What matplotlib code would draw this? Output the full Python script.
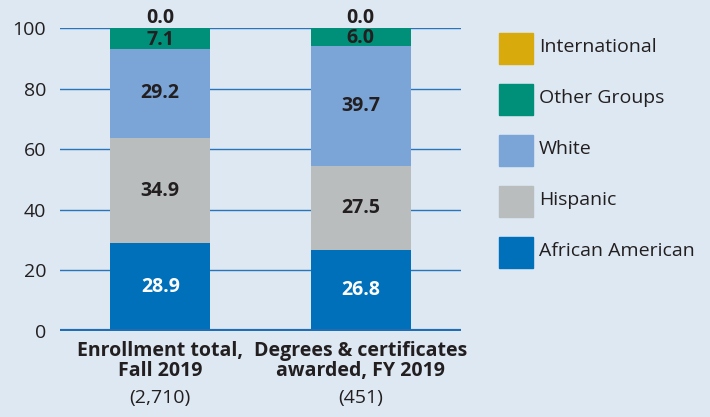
import numpy as np
import matplotlib.pyplot as plt
from matplotlib.patches import Rectangle

plt.rcParams['font.family'] = ['Open Sans', 'DejaVu Sans']

# Stacked shares (%) per group, bottom to top
groepen = ['African American', 'Hispanic', 'White', 'Other Groups', 'International']
kleuren = ['#0070bb', '#b9bdbe', '#7ba5d7', '#008f79', '#d9aa0c']
inschrijving = [28.9, 34.9, 29.2, 7.1, 0.0]
diplomas = [26.8, 27.5, 39.7, 6.0, 0.0]
categorieen = ['Enrollment total,\nFall 2019', 'Degrees & certificates\nawarded, FY 2019']
aantallen = ['(2,710)', '(451)']
label_kleur = ['white', '#231f20', '#231f20', '#231f20', '#231f20']

achtergrond = '#dde8f2'
tekst = '#231f20'
fs = 14

fig = plt.figure(figsize=(7.10, 4.17), dpi=100, facecolor=achtergrond)
ax = fig.add_axes([60 / 710, 1 - 331 / 417, 401 / 710, 303 / 417])
ax.set_facecolor(achtergrond)

x = np.arange(len(categorieen))
reeksen = np.array([inschrijving, diplomas]).T
onder = np.zeros(len(categorieen))

for rij, (naam, kleur) in enumerate(zip(groepen, kleuren)):
    waarden = reeksen[rij]
    ax.bar(x, waarden, width=0.5, bottom=onder, color=kleur, zorder=3)
    for xi, w, b in zip(x, waarden, onder):
        if w == 0:
            ax.annotate('%.1f' % w, (xi, b + w), xytext=(0, 0), textcoords='offset points',
                        ha='center', va='bottom', fontsize=fs, fontweight='bold',
                        color=tekst, zorder=4)
        else:
            ax.annotate('%.1f' % w, (xi, b + w / 2), xytext=(0, -1 if w < 10 else 0),
                        textcoords='offset points', ha='center', va='center', fontsize=fs,
                        fontweight='bold', color=label_kleur[rij], zorder=4)
    onder += waarden

ax.set_xlim(-0.5, 1.5)
ax.set_ylim(0, 100)
ax.set_yticks([0, 20, 40, 60, 80, 100])
ax.tick_params(axis='y', length=0, labelsize=fs, labelcolor=tekst, pad=10)
ax.set_xticks([])
for s in ax.spines.values():
    s.set_visible(False)
ax.yaxis.grid(True, color='#2a74bb', linewidth=1.0, zorder=1)
ax.axhline(0, color='#1f6db4', linewidth=3, zorder=5)

# category labels below the axis
for xi, cat, n in zip(x, categorieen, aantallen):
    ax.annotate(cat, (xi, 0), xytext=(0, -7), textcoords='offset points', ha='center',
                va='top', fontsize=fs, fontweight='bold', color=tekst,
                linespacing=1.0, annotation_clip=False)
    ax.annotate(n, (xi, 0), xytext=(0, -42), textcoords='offset points', ha='center',
                va='top', fontsize=fs, color=tekst, annotation_clip=False)

# legend, top to bottom
for i, (naam, kleur) in enumerate(zip(groepen[::-1], kleuren[::-1])):
    y_top = 33 + i * 51
    fig.patches.append(Rectangle((499 / 710, 1 - (y_top + 31) / 417), 34 / 710, 31 / 417,
                                 transform=fig.transFigure, color=kleur))
    fig.text(539 / 710, 1 - (y_top + 14) / 417, naam, ha='left', va='center',
             fontsize=fs, color=tekst)

fig.savefig('out.png', dpi=100, facecolor=achtergrond)
